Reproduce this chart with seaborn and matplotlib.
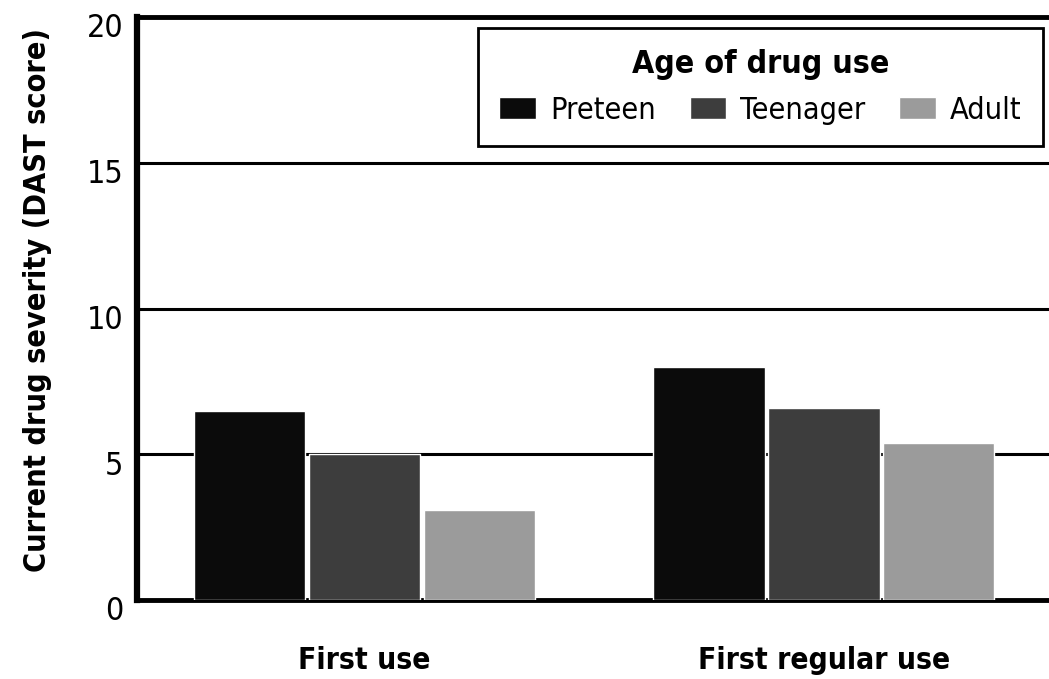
import matplotlib
matplotlib.use("Agg")
import matplotlib.pyplot as plt
import matplotlib.transforms as mtransforms
import pandas as pd
import seaborn as sns

# values
stages = ["First use", "First regular use"]
age_groups = ["Preteen", "Teenager", "Adult"]
preteen = [6.5, 8.0]
teenager = [5.0, 6.6]
adult = [3.1, 5.4]
bar_colors = ["#0b0b0b", "#3d3d3d", "#9b9b9b"]

df = pd.DataFrame({
    "stage": stages * 3,
    "age": [a for a in age_groups for _ in stages],
    "dast": preteen + teenager + adult,
})

sns.set_theme(style="white")
plt.rcParams["font.family"] = ["DejaVu Sans"]
plt.rcParams["font.stretch"] = "condensed"
plt.rcParams["text.color"] = "black"

fig = plt.figure(figsize=(10.49, 6.79), dpi=100)
ax = fig.add_axes([0.1306, 0.1163, 0.8694, 0.8587])

sns.barplot(data=df, x="stage", y="dast", hue="age", order=stages,
            hue_order=age_groups, palette=bar_colors, saturation=1,
            width=0.75, gap=0.03, errorbar=None, zorder=3, ax=ax)

ax.set_ylim(0, 20)
ax.set_yticks([0, 5, 10, 15, 20])
ax.set_xlim(-0.495, 1.49)
ax.set_axisbelow(True)
ax.yaxis.grid(True, color="black", linewidth=2.2)

for side, lw in [("left", 4.5), ("bottom", 3.5), ("top", 3.5)]:
    ax.spines[side].set_color("black")
    ax.spines[side].set_linewidth(lw)
ax.spines["right"].set_visible(False)

ax.tick_params(axis="both", length=0)
ax.tick_params(axis="y", labelsize=23, pad=10, colors="black")
ax.tick_params(axis="x", labelsize=21.5, pad=33, colors="black")
for t in ax.get_xticklabels():
    t.set_fontweight("bold")
# the scanned tick numbers sit a little below their grid lines
shift = mtransforms.ScaledTranslation(0, -6 / 72, fig.dpi_scale_trans)
for t in ax.get_yticklabels():
    t.set_transform(t.get_transform() + shift)

ax.set_xlabel("")
ax.set_ylabel("Current drug severity (DAST score)", fontsize=22,
              fontweight="bold", color="black")
ax.yaxis.set_label_coords(-0.093, 0.515)

leg = ax.legend(title="Age of drug use", ncol=3, loc="upper left",
                bbox_to_anchor=(0.374, 0.772, 0.619, 0.209), mode="expand",
                fontsize=22, title_fontproperties={"weight": "bold", "size": 23,
                                                    "stretch": "condensed"},
                frameon=True, fancybox=False, edgecolor="black",
                handlelength=1.2, handleheight=0.75, handletextpad=0.45,
                columnspacing=0.6, borderpad=0.7, borderaxespad=0)
leg.get_frame().set_linewidth(2)
leg.get_frame().set_alpha(1)

fig.savefig("out.png", dpi=100)
